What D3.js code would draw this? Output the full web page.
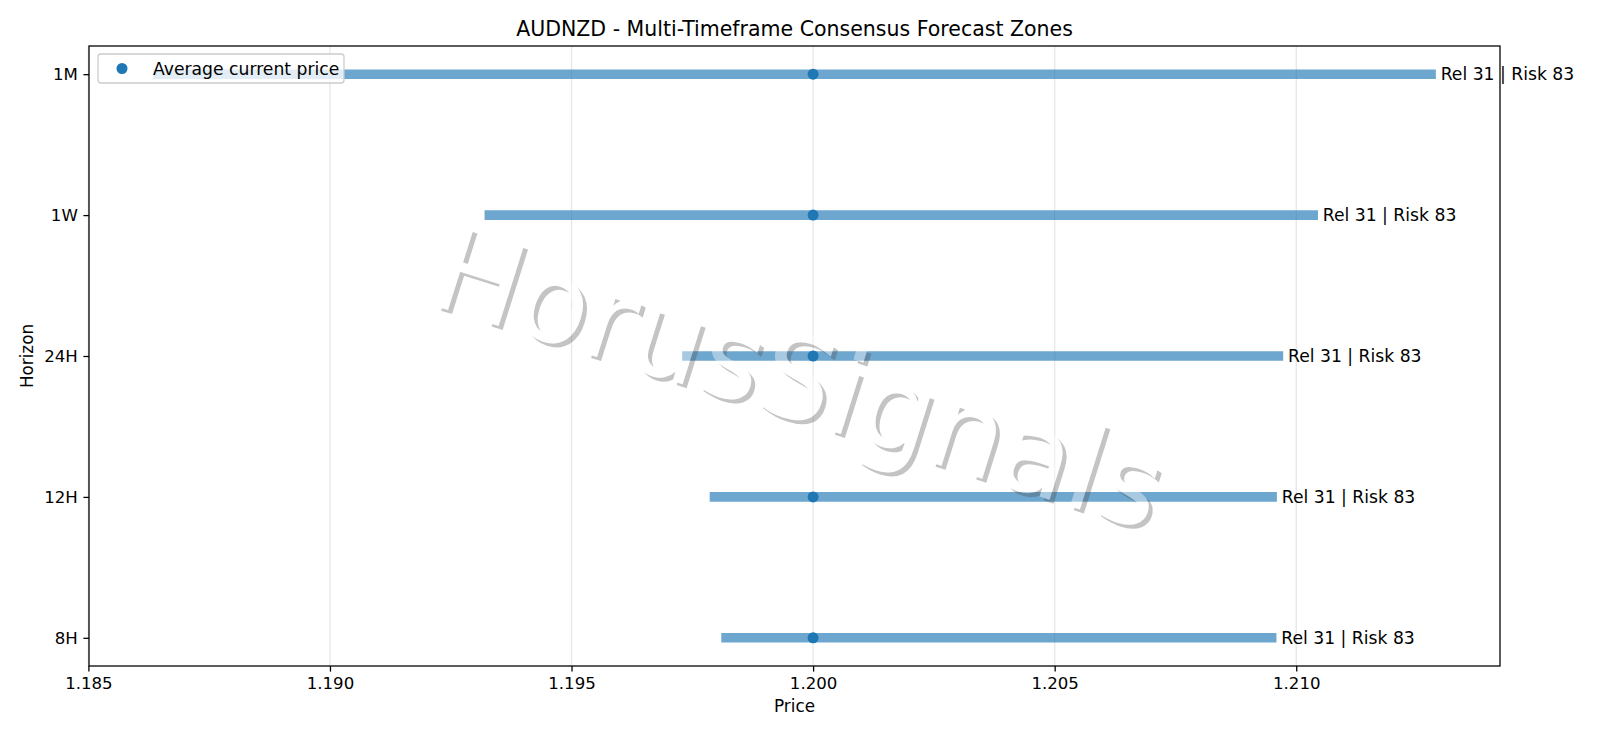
<!DOCTYPE html>
<html>
<head>
<meta charset="utf-8">
<script src="https://cdn.jsdelivr.net/npm/d3@7"></script>
<style>
  body { margin: 0; background: #fff; }
  svg { display: block; font-family: "DejaVu Sans", sans-serif; }
</style>
</head>
<body>
<svg id="chart" width="1600" height="738"></svg>
<script>
// forecast zones per horizon, bottom to top
var horizons = ["8H", "12H", "24H", "1W", "1M"];
var zoneLow = [1.19810, 1.19786, 1.19729, 1.19320, 1.18634];
var zoneHigh = [1.20959, 1.20960, 1.20973, 1.21045, 1.21289];
var currentPrice = [1.2000, 1.2000, 1.2000, 1.2000, 1.2000];
var relScore = [31, 31, 31, 31, 31];
var riskScore = [83, 83, 83, 83, 83];
var priceTicks = [1.185, 1.190, 1.195, 1.200, 1.205, 1.210];

var rows = horizons.map(function (h, i) {
    return { name: h, i: i, lo: zoneLow[i], hi: zoneHigh[i], price: currentPrice[i], rel: relScore[i], risk: riskScore[i] };
});

// plot area ("top" is taken by window.top, so use other names)
var axLeft = 89, axRight = 1500, axTop = 46, axBottom = 666;
var blue = "#1f77b4";

var svg = d3.select("#chart");

// matplotlib style 5% margins
var lo = d3.min(zoneLow), hi = d3.max(zoneHigh);
var pad = (hi - lo) * 0.05;
var x = d3.scaleLinear().domain([lo - pad, hi + pad]).range([axLeft, axRight]);
var y = d3.scaleLinear().domain([-0.2, horizons.length - 1 + 0.2]).range([axBottom, axTop]);

// grid (x only)
svg.append("g").selectAll("line")
    .data(priceTicks)
    .enter()
    .append("line")
    .attr("x1", d => x(d)).attr("x2", d => x(d))
    .attr("y1", axTop).attr("y2", axBottom)
    .style("stroke", "#b0b0b0")
    .style("stroke-opacity", 0.3)
    .style("stroke-width", 1.3);

// zone bars
svg.append("g").selectAll("line.zone")
    .data(rows)
    .enter()
    .append("line")
    .attr("class", "zone")
    .attr("x1", d => x(d.lo)).attr("x2", d => x(d.hi))
    .attr("y1", d => y(d.i)).attr("y2", d => y(d.i))
    .style("stroke", blue)
    .style("stroke-opacity", 0.65)
    .style("stroke-width", 9.6);

// current price dots
svg.append("g").selectAll("circle")
    .data(rows)
    .enter()
    .append("circle")
    .attr("cx", d => x(d.price))
    .attr("cy", d => y(d.i))
    .attr("r", 5.5)
    .style("fill", blue);

// rel / risk labels
svg.append("g").selectAll("text")
    .data(rows)
    .enter()
    .append("text")
    .attr("x", d => x(d.hi + 0.0001))
    .attr("y", d => y(d.i))
    .attr("dy", "0.35em")
    .style("font-size", "17.2px")
    .text(d => "Rel " + d.rel + " | Risk " + d.risk);

// watermark with a simple drop shadow
var wmTransform = "translate(787,417) rotate(17.5)";
var defs = svg.append("defs");
var mask = defs.append("mask").attr("id", "wmMask")
    .attr("maskUnits", "userSpaceOnUse")
    .attr("x", 0).attr("y", 0).attr("width", 1600).attr("height", 738);
mask.append("rect").attr("width", 1600).attr("height", 738).style("fill", "#fff");
mask.append("text")
    .attr("transform", wmTransform)
    .attr("text-anchor", "middle")
    .style("font-size", "116px")
    .style("fill", "#000")
    .text("HorusSignals");

svg.append("g")
    .attr("mask", "url(#wmMask)")
    .append("text")
    .attr("transform", "translate(791,421) rotate(17.5)")
    .attr("text-anchor", "middle")
    .style("font-size", "116px")
    .style("fill", "#4d4d4d")
    .style("fill-opacity", 0.33)
    .text("HorusSignals");

svg.append("text")
    .attr("transform", wmTransform)
    .attr("text-anchor", "middle")
    .style("font-size", "116px")
    .style("fill", "#fff")
    .style("fill-opacity", 0.4)
    .text("HorusSignals");

// axes
var xAxis = d3.axisBottom(x).tickValues(priceTicks).tickFormat(d3.format(".3f")).tickSize(5.6).tickPadding(5.6);
var gx = svg.append("g").attr("transform", `translate(0,${axBottom})`).call(xAxis);
var yAxis = d3.axisLeft(y).tickValues(d3.range(horizons.length)).tickFormat(i => horizons[i]).tickSize(5.6).tickPadding(5.6);
var gy = svg.append("g").attr("transform", `translate(${axLeft},0)`).call(yAxis);
[gx, gy].forEach(function (g) {
    g.select(".domain").remove();
    g.selectAll(".tick line").style("stroke", "#000").style("stroke-width", 1.28);
    g.selectAll(".tick text").style("font-size", "16.6px").style("font-family", "DejaVu Sans").style("fill", "#000");
});

// frame
svg.append("rect")
    .attr("x", axLeft).attr("y", axTop)
    .attr("width", axRight - axLeft).attr("height", axBottom - axTop)
    .style("fill", "none")
    .style("stroke", "#000")
    .style("stroke-width", 1.28);

// legend
var legend = svg.append("g");
legend.append("rect")
    .attr("x", 98).attr("y", 54).attr("width", 246).attr("height", 29).attr("rx", 3)
    .style("fill", "#fff").style("fill-opacity", 0.8)
    .style("stroke", "#cccccc").style("stroke-width", 1.28);
legend.append("circle").attr("cx", 122).attr("cy", 68.5).attr("r", 5.5).style("fill", blue);
legend.append("text").attr("x", 153).attr("y", 68.5).attr("dy", "0.35em")
    .style("font-size", "17.2px").text("Average current price");

// titles
svg.append("text")
    .attr("x", (axLeft + axRight) / 2).attr("y", 36)
    .attr("text-anchor", "middle")
    .style("font-size", "20.5px")
    .text("AUDNZD - Multi-Timeframe Consensus Forecast Zones");
svg.append("text")
    .attr("x", (axLeft + axRight) / 2).attr("y", 712)
    .attr("text-anchor", "middle")
    .style("font-size", "16.8px")
    .text("Price");
svg.append("text")
    .attr("transform", `translate(33,${(axTop + axBottom) / 2}) rotate(-90)`)
    .attr("text-anchor", "middle")
    .style("font-size", "16.8px")
    .text("Horizon");
</script>
</body>
</html>
